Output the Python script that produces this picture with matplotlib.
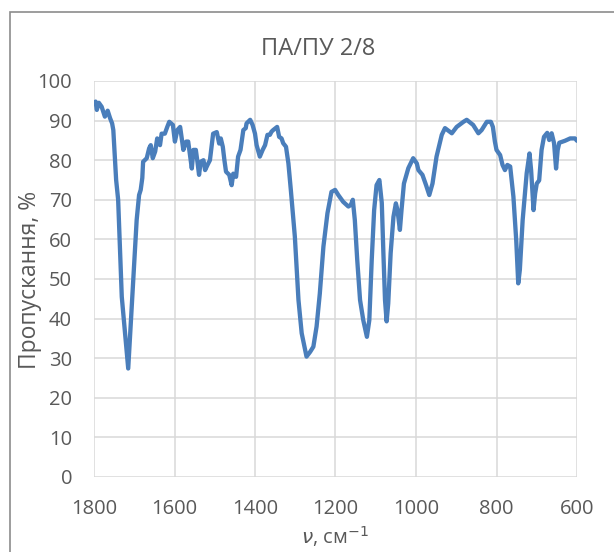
import numpy as np
from matplotlib import pyplot as plt
from matplotlib.patches import Rectangle

# IR spectrum, wavenumber (cm-1) vs transmittance (%)
wavenumber = [1800, 1796, 1793, 1788, 1781, 1773, 1766, 1760, 1755, 1752,
              1745, 1740, 1731, 1715, 1702, 1694, 1688, 1684, 1680, 1678,
              1669, 1663, 1659, 1654, 1648, 1643, 1636, 1632, 1624, 1618,
              1613, 1604, 1599, 1593, 1586, 1582, 1578, 1571, 1566, 1561,
              1557, 1553, 1547, 1543, 1539, 1535, 1528, 1524, 1518, 1512,
              1504, 1495, 1489, 1485, 1480, 1476, 1472, 1464, 1458, 1454,
              1447, 1442, 1436, 1429, 1423, 1421, 1412, 1406, 1400, 1396,
              1388, 1381, 1375, 1369, 1363, 1359, 1355, 1345, 1340, 1334,
              1330, 1323, 1317, 1311, 1301, 1292, 1284, 1272, 1263, 1255,
              1247, 1239, 1230, 1220, 1210, 1201, 1193, 1181, 1168, 1162,
              1157, 1152, 1146, 1139, 1131, 1122, 1116, 1110, 1104, 1098,
              1091, 1085, 1081, 1077, 1073, 1069, 1063, 1056, 1050, 1046,
              1040, 1036, 1030, 1019, 1007, 998, 994, 984, 975, 967,
              959, 949, 936, 928, 911, 899, 882, 874, 858, 845,
              837, 824, 814, 809, 804, 800, 791, 785, 779, 773,
              766, 758, 751, 746, 742, 735, 725, 718, 714, 708,
              704, 700, 694, 688, 682, 674, 669, 663, 657, 652,
              648, 644, 630, 617, 605, 600]
transmittance = [94.5, 94.8, 92.7, 94.5, 93.5, 91.0, 92.5, 90.6, 89.3, 87.6,
                 75.0, 70.0, 45.5, 27.4, 50.6, 64.9, 71.2, 72.5, 75.5, 79.6,
                 80.5, 83.0, 83.8, 80.5, 82.2, 85.5, 83.8, 86.7, 86.7, 88.4,
                 89.7, 88.9, 84.7, 87.6, 88.4, 85.5, 82.6, 84.7, 84.7, 80.9,
                 77.9, 82.6, 82.6, 79.6, 76.3, 79.6, 80.0, 77.5, 78.8, 80.0,
                 86.7, 87.1, 84.2, 85.5, 83.4, 80.0, 77.1, 76.3, 73.7, 76.6,
                 75.8, 80.9, 82.6, 87.6, 88.1, 89.3, 90.2, 88.9, 86.7, 83.8,
                 80.9, 82.6, 83.8, 86.4, 86.4, 87.2, 87.6, 88.4, 85.9, 85.5,
                 84.3, 83.4, 79.2, 72.5, 60.7, 44.7, 36.3, 30.4, 31.6, 32.9,
                 38.0, 46.3, 58.2, 66.6, 72.0, 72.5, 71.2, 69.5, 68.3, 68.7,
                 70.0, 64.9, 54.8, 44.7, 39.6, 35.4, 39.6, 54.8, 67.4, 73.7,
                 75.0, 69.2, 56.5, 44.7, 39.3, 43.8, 56.5, 65.7, 69.1, 67.4,
                 62.4, 67.4, 74.1, 78.0, 80.5, 79.2, 77.5, 76.3, 73.7, 71.2,
                 74.1, 80.9, 86.4, 88.1, 86.8, 88.4, 89.7, 90.2, 88.9, 86.8,
                 87.6, 89.7, 89.7, 88.4, 84.7, 82.6, 81.3, 78.8, 77.5, 78.8,
                 78.4, 70.8, 59.8, 48.9, 52.3, 64.9, 76.7, 81.7, 77.5, 67.4,
                 71.6, 74.1, 74.9, 82.6, 85.9, 86.9, 85.1, 86.8, 84.3, 77.9,
                 82.6, 84.4, 84.9, 85.5, 85.5, 84.9]

xticks = [1800, 1600, 1400, 1200, 1000, 800, 600]
yticks = list(range(0, 101, 10))

plt.rcParams['font.family'] = ['Open Sans', 'DejaVu Sans']
txtcol = '#595959'
W, H = 614, 552

fig = plt.figure(figsize=(W/100, H/100), dpi=100)
# chart frame, cut off at the right and bottom edges
fig.patches.append(Rectangle((10/W, -0.1), 2, 1.1 - 12/H, transform=fig.transFigure,
                             fill=False, edgecolor='#8c8c8c', linewidth=1.2))

ax = fig.add_axes([94/W, 1 - 477/H, 483/W, 396/H])
ax.plot(np.array(wavenumber), np.array(transmittance), color='#4a7ebb', linewidth=3.1,
        solid_joinstyle='round', solid_capstyle='round', zorder=3)

ax.set_xlim(1800, 600)
ax.set_ylim(0, 100)
ax.set_xticks(xticks)
ax.set_yticks(yticks)
ax.grid(True, color='#d9d9d9', linewidth=1.1)
ax.set_axisbelow(True)
for s in ax.spines.values():
    s.set_visible(False)
ax.tick_params(axis='both', length=0, labelsize=14.5, labelcolor=txtcol)
ax.tick_params(axis='y', pad=15.8)
ax.tick_params(axis='x', pad=16)

fig.text(318/W, 1 - 55/H, 'ПА/ПУ 2/8', ha='center', va='baseline', fontsize=17, color=txtcol)
fig.text(335/W, 1 - 544/H, r'$\nu$, см$^{-1}$', ha='center', va='baseline', fontsize=14.5, color=txtcol)
fig.text(30/W, 1 - 280/H, 'Пропускання, %', rotation=90, ha='center', va='center',
         fontsize=16.5, color=txtcol)

fig.savefig('out.png', dpi=100)
